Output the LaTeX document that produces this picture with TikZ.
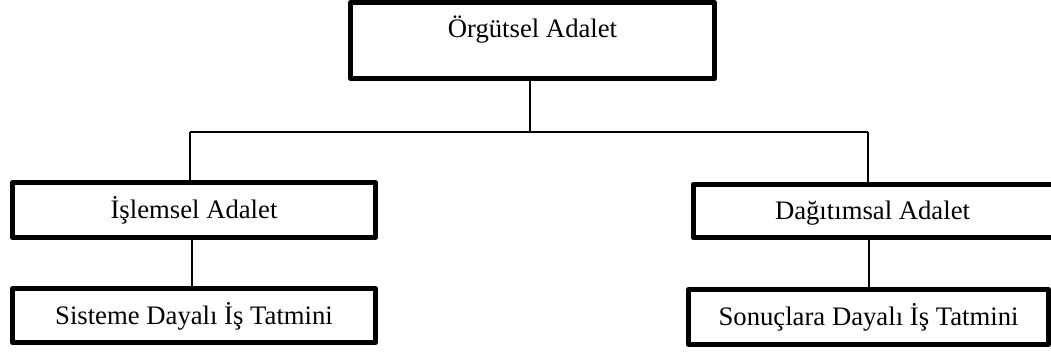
\documentclass[tikz,border=0pt]{standalone}
\usepackage{fontspec}
\setmainfont{Liberation Serif}
\begin{document}
\begin{tikzpicture}[x=1pt,y=-1pt,
  box/.style={draw=black,line width=5pt,line join=round,rectangle,inner sep=0pt,
    font=\fontsize{26.7}{32}\selectfont,text height=18pt,text depth=0.5pt},
  link/.style={draw=black,line width=1.3pt}]
  \useasboundingbox[fill=white] (0,0) rectangle (1051,351);
  \clip (0,0) rectangle (1051,351);

  % top level
  \node[box,minimum width=364pt,minimum height=76pt,text depth=25pt] (top) at (532.5,40.5) {Örgütsel Adalet};

  % second level
  \node[box,minimum width=363pt,minimum height=55pt] (lm) at (194,210) {İşlemsel Adalet};
  \node[box,minimum width=380pt,minimum height=53pt,anchor=west] (rm) at (690.5,211) {};
  \node[font=\fontsize{26.7}{32}\selectfont,text height=18pt,text depth=0.5pt,inner sep=0pt] (rmt) at (872.5,211) {Dağıtımsal Adalet};

  % third level
  \node[box,minimum width=363pt,minimum height=54pt] (lb) at (194,315.5) {Sisteme Dayalı İş Tatmini};
  \node[box,minimum width=360pt,minimum height=55pt] (rb) at (868.5,317) {Sonuçlara Dayalı İş Tatmini};

  % connectors
  \coordinate (jt) at (530,132);
  \coordinate (jl) at (190,132);
  \coordinate (jr) at (868,132);
  \coordinate (ll) at (192,260);
  \coordinate (rl) at (869,260);
  \draw[link] (top.south -| jt) -- (jt);
  \draw[link] (jl) -- (jr);
  \draw[link] (jl) -- (lm.north -| jl);
  \draw[link] (jr) -- (rm.north -| jr);
  \draw[link] (lm.south -| ll) -- (lb.north -| ll);
  \draw[link] (rm.south -| rl) -- (rb.north -| rl);
\end{tikzpicture}
\end{document}
